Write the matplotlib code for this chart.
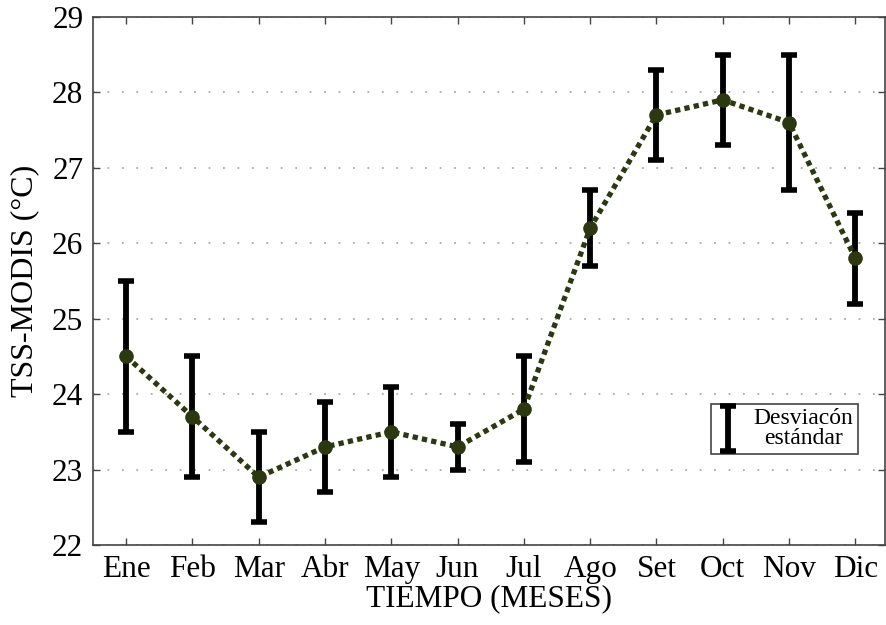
import matplotlib
matplotlib.use("Agg")
import matplotlib.pyplot as plt
import numpy as np
from matplotlib.container import ErrorbarContainer
from matplotlib.legend_handler import HandlerErrorbar

meses = ["Ene", "Feb", "Mar", "Abr", "May", "Jun",
         "Jul", "Ago", "Set", "Oct", "Nov", "Dic"]
tss = [24.5, 23.7, 22.9, 23.3, 23.5, 23.3, 23.8, 26.2, 27.7, 27.9, 27.6, 25.8]
desv = [1.0, 0.8, 0.6, 0.6, 0.6, 0.3, 0.7, 0.5, 0.6, 0.6, 0.9, 0.6]

plt.rcParams["font.family"] = ["Liberation Serif", "DejaVu Serif"]

x = np.arange(1, len(meses) + 1)

fig = plt.figure(figsize=(8.86, 6.25), dpi=100)
ax = fig.add_axes([0.105, 0.128, 0.894, 0.845])

# error bars first, mean curve on top
eb = ax.errorbar(x, tss, yerr=desv, fmt="none", ecolor="black",
                 elinewidth=4.2, capsize=5.5, capthick=4, zorder=2)
ax.plot(x, tss, linestyle=(0, (1, 0.8)), color="#2b3810", linewidth=3.8,
        marker="o", markersize=9.5, markerfacecolor="#2b3810",
        markeredgecolor="#2b3810", zorder=3)

ax.set_xlim(0.5, 12.45)
ax.set_ylim(22, 29)
ax.set_xticks(x)
ax.set_xticklabels(meses)
ax.set_yticks(np.arange(22, 30, 1))

ax.yaxis.grid(True, linestyle=(0, (1, 7)), color="#aaaaaa", linewidth=1.3)
ax.set_axisbelow(True)

ax.tick_params(direction="in", top=True, right=True, length=5,
               width=1, labelsize=22.5, color="#444444")
ax.tick_params(axis="x", pad=7)
ax.tick_params(axis="y", pad=7)
for s in ax.spines.values():
    s.set_color("#444444")
    s.set_linewidth(1.2)

ax.set_xlabel("TIEMPO (MESES)", fontsize=22.5, labelpad=0)
ax.set_ylabel("TSS-MODIS (°C)", fontsize=23, labelpad=9)

leg = ax.legend([eb], ["Desviacón\nestándar"], loc="lower right",
                bbox_to_anchor=(0.966, 0.172), borderaxespad=0,
                fontsize=17, handlelength=1.0, handletextpad=0.6,
                borderpad=0.2, labelspacing=0.1, fancybox=False,
                framealpha=1,
                handler_map={ErrorbarContainer: HandlerErrorbar(yerr_size=0.95)})
leg.get_texts()[0].set_multialignment("center")
leg.get_texts()[0].set_linespacing(0.95)
leg.get_frame().set_edgecolor("#444444")
leg.get_frame().set_linewidth(1.2)

fig.savefig("out.png", dpi=100)
